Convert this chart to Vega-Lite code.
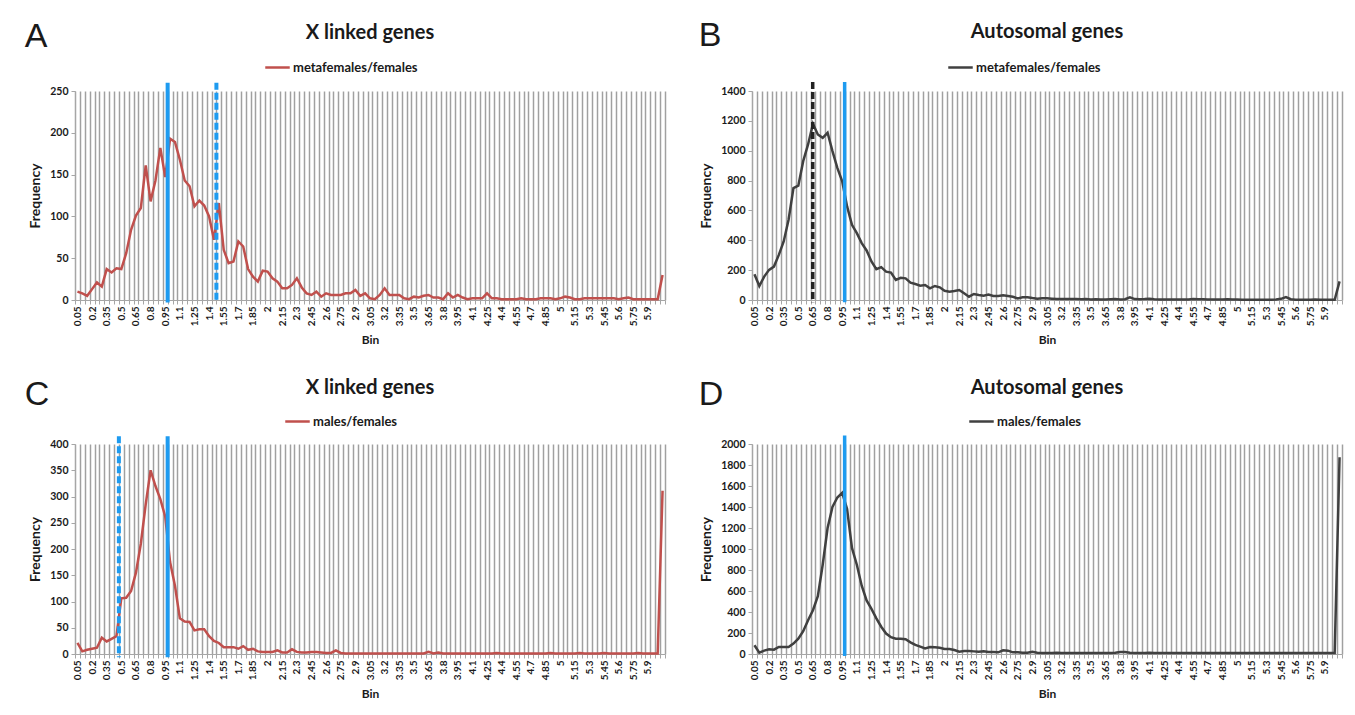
{
"$schema":"https://vega.github.io/schema/vega-lite/v6.json",
"padding":{"left":24,"top":19,"right":5,"bottom":5},
"background":"white",
"resolve":{"scale":{"color":"independent"},"legend":{"color":"independent"}},
"config":{
 "font":"Lato",
 "view":{"stroke":null},
 "axis":{"labelFont":"Lato","titleFont":"Lato","labelColor":"#1a1a1a","titleColor":"#1a1a1a","domainColor":"#a6a6a6","tickColor":"#a6a6a6","labelFontWeight":"bold","titleFontWeight":"bold"},
 "axisX":{"labelAngle":-90,"labelFontSize":10,"tickBand":"extent","grid":true,"gridColor":"#a0a0a0","gridWidth":1.5,"tickSize":4,"labelPadding":2,"titleFontSize":12,"titlePadding":9,"labelOverlap":false,"labelExpr":"round(datum.value*20) % 3 == 1 && datum.value < 6.02 ? datum.value + '' : ''"},
 "axisY":{"grid":false,"labelFontSize":10.5,"titleFontSize":14,"tickSize":4,"labelPadding":3,"titlePadding":7,"labelOverlap":false,"format":"d"},
 "title":{"font":"Lato","color":"#1a1a1a"},
 "legend":{"orient":"none","title":null,"symbolType":"stroke","symbolStrokeWidth":2.5,"symbolSize":600,"labelFont":"Lato","labelFontSize":13,"labelFontWeight":"bold","labelColor":"#1a1a1a","labelOffset":2}
},
"datasets":{
"A":[{"bin":0.05,"freq":10},{"bin":0.1,"freq":8},{"bin":0.15,"freq":5},{"bin":0.2,"freq":13},{"bin":0.25,"freq":21},{"bin":0.3,"freq":16},{"bin":0.35,"freq":37},{"bin":0.4,"freq":33},{"bin":0.45,"freq":38},{"bin":0.5,"freq":37},
{"bin":0.55,"freq":56},{"bin":0.6,"freq":84},{"bin":0.65,"freq":101},{"bin":0.7,"freq":110},{"bin":0.75,"freq":161},{"bin":0.8,"freq":118},{"bin":0.85,"freq":143},{"bin":0.9,"freq":182},{"bin":0.95,"freq":147},{"bin":1,"freq":193},
{"bin":1.05,"freq":189},{"bin":1.1,"freq":168},{"bin":1.15,"freq":143},{"bin":1.2,"freq":136},{"bin":1.25,"freq":112},{"bin":1.3,"freq":119},{"bin":1.35,"freq":113},{"bin":1.4,"freq":100},{"bin":1.45,"freq":72},{"bin":1.5,"freq":116},
{"bin":1.55,"freq":60},{"bin":1.6,"freq":44},{"bin":1.65,"freq":46},{"bin":1.7,"freq":70},{"bin":1.75,"freq":64},{"bin":1.8,"freq":37},{"bin":1.85,"freq":28},{"bin":1.9,"freq":22},{"bin":1.95,"freq":35},{"bin":2,"freq":34},
{"bin":2.05,"freq":26},{"bin":2.1,"freq":22},{"bin":2.15,"freq":14},{"bin":2.2,"freq":14},{"bin":2.25,"freq":18},{"bin":2.3,"freq":26},{"bin":2.35,"freq":15},{"bin":2.4,"freq":8},{"bin":2.45,"freq":6},{"bin":2.5,"freq":10},
{"bin":2.55,"freq":4},{"bin":2.6,"freq":8},{"bin":2.65,"freq":6},{"bin":2.7,"freq":6},{"bin":2.75,"freq":6},{"bin":2.8,"freq":8},{"bin":2.85,"freq":8},{"bin":2.9,"freq":12},{"bin":2.95,"freq":5},{"bin":3,"freq":8},
{"bin":3.05,"freq":2},{"bin":3.1,"freq":1},{"bin":3.15,"freq":6},{"bin":3.2,"freq":14},{"bin":3.25,"freq":6},{"bin":3.3,"freq":6},{"bin":3.35,"freq":6},{"bin":3.4,"freq":2},{"bin":3.45,"freq":1},{"bin":3.5,"freq":4},
{"bin":3.55,"freq":3},{"bin":3.6,"freq":5},{"bin":3.65,"freq":6},{"bin":3.7,"freq":3},{"bin":3.75,"freq":3},{"bin":3.8,"freq":1},{"bin":3.85,"freq":8},{"bin":3.9,"freq":3},{"bin":3.95,"freq":6},{"bin":4,"freq":3},
{"bin":4.05,"freq":1},{"bin":4.1,"freq":2},{"bin":4.15,"freq":2},{"bin":4.2,"freq":2},{"bin":4.25,"freq":8},{"bin":4.3,"freq":2},{"bin":4.35,"freq":2},{"bin":4.4,"freq":1},{"bin":4.45,"freq":1},{"bin":4.5,"freq":1},
{"bin":4.55,"freq":1},{"bin":4.6,"freq":2},{"bin":4.65,"freq":1},{"bin":4.7,"freq":1},{"bin":4.75,"freq":1},{"bin":4.8,"freq":2},{"bin":4.85,"freq":2},{"bin":4.9,"freq":2},{"bin":4.95,"freq":1},{"bin":5,"freq":2},
{"bin":5.05,"freq":4},{"bin":5.1,"freq":3},{"bin":5.15,"freq":1},{"bin":5.2,"freq":1},{"bin":5.25,"freq":2},{"bin":5.3,"freq":2},{"bin":5.35,"freq":2},{"bin":5.4,"freq":2},{"bin":5.45,"freq":2},{"bin":5.5,"freq":2},
{"bin":5.55,"freq":2},{"bin":5.6,"freq":1},{"bin":5.65,"freq":2},{"bin":5.7,"freq":3},{"bin":5.75,"freq":1},{"bin":5.8,"freq":1},{"bin":5.85,"freq":1},{"bin":5.9,"freq":1},{"bin":5.95,"freq":1},{"bin":6,"freq":1},
{"bin":6.05,"freq":30}],
"B":[{"bin":0.05,"freq":172},{"bin":0.1,"freq":94},{"bin":0.15,"freq":157},{"bin":0.2,"freq":202},{"bin":0.25,"freq":224},{"bin":0.3,"freq":302},{"bin":0.35,"freq":392},{"bin":0.4,"freq":538},{"bin":0.45,"freq":750},{"bin":0.5,"freq":766},
{"bin":0.55,"freq":930},{"bin":0.6,"freq":1042},{"bin":0.65,"freq":1180},{"bin":0.7,"freq":1109},{"bin":0.75,"freq":1086},{"bin":0.8,"freq":1120},{"bin":0.85,"freq":997},{"bin":0.9,"freq":885},{"bin":0.95,"freq":795},{"bin":1,"freq":627},
{"bin":1.05,"freq":504},{"bin":1.1,"freq":448},{"bin":1.15,"freq":381},{"bin":1.2,"freq":332},{"bin":1.25,"freq":258},{"bin":1.3,"freq":206},{"bin":1.35,"freq":220},{"bin":1.4,"freq":190},{"bin":1.45,"freq":184},{"bin":1.5,"freq":134},
{"bin":1.55,"freq":149},{"bin":1.6,"freq":145},{"bin":1.65,"freq":116},{"bin":1.7,"freq":107},{"bin":1.75,"freq":96},{"bin":1.8,"freq":100},{"bin":1.85,"freq":78},{"bin":1.9,"freq":94},{"bin":1.95,"freq":85},{"bin":2,"freq":62},
{"bin":2.05,"freq":56},{"bin":2.1,"freq":60},{"bin":2.15,"freq":67},{"bin":2.2,"freq":45},{"bin":2.25,"freq":22},{"bin":2.3,"freq":40},{"bin":2.35,"freq":33},{"bin":2.4,"freq":29},{"bin":2.45,"freq":36},{"bin":2.5,"freq":27},
{"bin":2.55,"freq":27},{"bin":2.6,"freq":31},{"bin":2.65,"freq":27},{"bin":2.7,"freq":22},{"bin":2.75,"freq":11},{"bin":2.8,"freq":18},{"bin":2.85,"freq":18},{"bin":2.9,"freq":13},{"bin":2.95,"freq":9},{"bin":3,"freq":11},
{"bin":3.05,"freq":11},{"bin":3.1,"freq":9},{"bin":3.15,"freq":7},{"bin":3.2,"freq":7},{"bin":3.25,"freq":7},{"bin":3.3,"freq":6},{"bin":3.35,"freq":6},{"bin":3.4,"freq":5},{"bin":3.45,"freq":6},{"bin":3.5,"freq":4},
{"bin":3.55,"freq":5},{"bin":3.6,"freq":4},{"bin":3.65,"freq":4},{"bin":3.7,"freq":5},{"bin":3.75,"freq":6},{"bin":3.8,"freq":4},{"bin":3.85,"freq":5},{"bin":3.9,"freq":18},{"bin":3.95,"freq":6},{"bin":4,"freq":5},
{"bin":4.05,"freq":6},{"bin":4.1,"freq":8},{"bin":4.15,"freq":5},{"bin":4.2,"freq":3},{"bin":4.25,"freq":3},{"bin":4.3,"freq":3},{"bin":4.35,"freq":3},{"bin":4.4,"freq":3},{"bin":4.45,"freq":4},{"bin":4.5,"freq":4},
{"bin":4.55,"freq":6},{"bin":4.6,"freq":5},{"bin":4.65,"freq":5},{"bin":4.7,"freq":3},{"bin":4.75,"freq":3},{"bin":4.8,"freq":3},{"bin":4.85,"freq":3},{"bin":4.9,"freq":5},{"bin":4.95,"freq":3},{"bin":5,"freq":3},
{"bin":5.05,"freq":2},{"bin":5.1,"freq":2},{"bin":5.15,"freq":2},{"bin":5.2,"freq":2},{"bin":5.25,"freq":2},{"bin":5.3,"freq":2},{"bin":5.35,"freq":2},{"bin":5.4,"freq":3},{"bin":5.45,"freq":8},{"bin":5.5,"freq":20},
{"bin":5.55,"freq":5},{"bin":5.6,"freq":2},{"bin":5.65,"freq":2},{"bin":5.7,"freq":2},{"bin":5.75,"freq":2},{"bin":5.8,"freq":3},{"bin":5.85,"freq":2},{"bin":5.9,"freq":2},{"bin":5.95,"freq":2},{"bin":6,"freq":2},
{"bin":6.05,"freq":125}],
"C":[{"bin":0.05,"freq":21},{"bin":0.1,"freq":5},{"bin":0.15,"freq":8},{"bin":0.2,"freq":10},{"bin":0.25,"freq":12},{"bin":0.3,"freq":31},{"bin":0.35,"freq":24},{"bin":0.4,"freq":29},{"bin":0.45,"freq":34},{"bin":0.5,"freq":106},
{"bin":0.55,"freq":107},{"bin":0.6,"freq":120},{"bin":0.65,"freq":155},{"bin":0.7,"freq":210},{"bin":0.75,"freq":285},{"bin":0.8,"freq":350},{"bin":0.85,"freq":320},{"bin":0.9,"freq":295},{"bin":0.95,"freq":262},{"bin":1,"freq":175},
{"bin":1.05,"freq":130},{"bin":1.1,"freq":68},{"bin":1.15,"freq":62},{"bin":1.2,"freq":61},{"bin":1.25,"freq":45},{"bin":1.3,"freq":47},{"bin":1.35,"freq":47},{"bin":1.4,"freq":34},{"bin":1.45,"freq":25},{"bin":1.5,"freq":21},
{"bin":1.55,"freq":13},{"bin":1.6,"freq":13},{"bin":1.65,"freq":13},{"bin":1.7,"freq":10},{"bin":1.75,"freq":15},{"bin":1.8,"freq":8},{"bin":1.85,"freq":10},{"bin":1.9,"freq":5},{"bin":1.95,"freq":4},{"bin":2,"freq":4},
{"bin":2.05,"freq":4},{"bin":2.1,"freq":7},{"bin":2.15,"freq":3},{"bin":2.2,"freq":3},{"bin":2.25,"freq":9},{"bin":2.3,"freq":4},{"bin":2.35,"freq":3},{"bin":2.4,"freq":3},{"bin":2.45,"freq":4},{"bin":2.5,"freq":4},
{"bin":2.55,"freq":3},{"bin":2.6,"freq":2},{"bin":2.65,"freq":2},{"bin":2.7,"freq":7},{"bin":2.75,"freq":2},{"bin":2.8,"freq":1},{"bin":2.85,"freq":1},{"bin":2.9,"freq":1},{"bin":2.95,"freq":1},{"bin":3,"freq":1},
{"bin":3.05,"freq":1},{"bin":3.1,"freq":1},{"bin":3.15,"freq":1},{"bin":3.2,"freq":1},{"bin":3.25,"freq":1},{"bin":3.3,"freq":1},{"bin":3.35,"freq":1},{"bin":3.4,"freq":1},{"bin":3.45,"freq":1},{"bin":3.5,"freq":1},
{"bin":3.55,"freq":1},{"bin":3.6,"freq":1},{"bin":3.65,"freq":4},{"bin":3.7,"freq":1},{"bin":3.75,"freq":3},{"bin":3.8,"freq":1},{"bin":3.85,"freq":1},{"bin":3.9,"freq":1},{"bin":3.95,"freq":1},{"bin":4,"freq":1},
{"bin":4.05,"freq":1},{"bin":4.1,"freq":1},{"bin":4.15,"freq":1},{"bin":4.2,"freq":1},{"bin":4.25,"freq":1},{"bin":4.3,"freq":1},{"bin":4.35,"freq":2},{"bin":4.4,"freq":1},{"bin":4.45,"freq":1},{"bin":4.5,"freq":1},
{"bin":4.55,"freq":1},{"bin":4.6,"freq":1},{"bin":4.65,"freq":1},{"bin":4.7,"freq":1},{"bin":4.75,"freq":1},{"bin":4.8,"freq":1},{"bin":4.85,"freq":1},{"bin":4.9,"freq":2},{"bin":4.95,"freq":1},{"bin":5,"freq":1},
{"bin":5.05,"freq":1},{"bin":5.1,"freq":1},{"bin":5.15,"freq":1},{"bin":5.2,"freq":2},{"bin":5.25,"freq":1},{"bin":5.3,"freq":1},{"bin":5.35,"freq":1},{"bin":5.4,"freq":1},{"bin":5.45,"freq":2},{"bin":5.5,"freq":1},
{"bin":5.55,"freq":1},{"bin":5.6,"freq":1},{"bin":5.65,"freq":1},{"bin":5.7,"freq":1},{"bin":5.75,"freq":1},{"bin":5.8,"freq":2},{"bin":5.85,"freq":1},{"bin":5.9,"freq":1},{"bin":5.95,"freq":1},{"bin":6,"freq":1},
{"bin":6.05,"freq":311}],
"D":[{"bin":0.05,"freq":83},{"bin":0.1,"freq":13},{"bin":0.15,"freq":32},{"bin":0.2,"freq":45},{"bin":0.25,"freq":41},{"bin":0.3,"freq":67},{"bin":0.35,"freq":67},{"bin":0.4,"freq":67},{"bin":0.45,"freq":99},{"bin":0.5,"freq":146},
{"bin":0.55,"freq":217},{"bin":0.6,"freq":322},{"bin":0.65,"freq":417},{"bin":0.7,"freq":550},{"bin":0.75,"freq":850},{"bin":0.8,"freq":1200},{"bin":0.85,"freq":1400},{"bin":0.9,"freq":1490},{"bin":0.95,"freq":1535},{"bin":1,"freq":1380},
{"bin":1.05,"freq":1010},{"bin":1.1,"freq":850},{"bin":1.15,"freq":650},{"bin":1.2,"freq":510},{"bin":1.25,"freq":430},{"bin":1.3,"freq":340},{"bin":1.35,"freq":260},{"bin":1.4,"freq":195},{"bin":1.45,"freq":160},{"bin":1.5,"freq":145},
{"bin":1.55,"freq":145},{"bin":1.6,"freq":140},{"bin":1.65,"freq":111},{"bin":1.7,"freq":86},{"bin":1.75,"freq":70},{"bin":1.8,"freq":54},{"bin":1.85,"freq":67},{"bin":1.9,"freq":64},{"bin":1.95,"freq":60},{"bin":2,"freq":48},
{"bin":2.05,"freq":48},{"bin":2.1,"freq":38},{"bin":2.15,"freq":22},{"bin":2.2,"freq":29},{"bin":2.25,"freq":29},{"bin":2.3,"freq":25},{"bin":2.35,"freq":22},{"bin":2.4,"freq":25},{"bin":2.45,"freq":19},{"bin":2.5,"freq":19},
{"bin":2.55,"freq":16},{"bin":2.6,"freq":35},{"bin":2.65,"freq":32},{"bin":2.7,"freq":16},{"bin":2.75,"freq":16},{"bin":2.8,"freq":13},{"bin":2.85,"freq":13},{"bin":2.9,"freq":22},{"bin":2.95,"freq":13},{"bin":3,"freq":10},
{"bin":3.05,"freq":10},{"bin":3.1,"freq":10},{"bin":3.15,"freq":13},{"bin":3.2,"freq":10},{"bin":3.25,"freq":10},{"bin":3.3,"freq":10},{"bin":3.35,"freq":10},{"bin":3.4,"freq":10},{"bin":3.45,"freq":10},{"bin":3.5,"freq":10},
{"bin":3.55,"freq":10},{"bin":3.6,"freq":10},{"bin":3.65,"freq":10},{"bin":3.7,"freq":10},{"bin":3.75,"freq":13},{"bin":3.8,"freq":19},{"bin":3.85,"freq":19},{"bin":3.9,"freq":13},{"bin":3.95,"freq":10},{"bin":4,"freq":10},
{"bin":4.05,"freq":10},{"bin":4.1,"freq":13},{"bin":4.15,"freq":10},{"bin":4.2,"freq":10},{"bin":4.25,"freq":10},{"bin":4.3,"freq":10},{"bin":4.35,"freq":10},{"bin":4.4,"freq":10},{"bin":4.45,"freq":10},{"bin":4.5,"freq":10},
{"bin":4.55,"freq":10},{"bin":4.6,"freq":10},{"bin":4.65,"freq":10},{"bin":4.7,"freq":10},{"bin":4.75,"freq":10},{"bin":4.8,"freq":10},{"bin":4.85,"freq":10},{"bin":4.9,"freq":10},{"bin":4.95,"freq":10},{"bin":5,"freq":10},
{"bin":5.05,"freq":10},{"bin":5.1,"freq":10},{"bin":5.15,"freq":10},{"bin":5.2,"freq":10},{"bin":5.25,"freq":10},{"bin":5.3,"freq":10},{"bin":5.35,"freq":10},{"bin":5.4,"freq":10},{"bin":5.45,"freq":10},{"bin":5.5,"freq":10},
{"bin":5.55,"freq":10},{"bin":5.6,"freq":10},{"bin":5.65,"freq":10},{"bin":5.7,"freq":10},{"bin":5.75,"freq":10},{"bin":5.8,"freq":10},{"bin":5.85,"freq":10},{"bin":5.9,"freq":10},{"bin":5.95,"freq":10},{"bin":6,"freq":10},
{"bin":6.05,"freq":1873}]
},
"vconcat":[
{"resolve":{"scale":{"color":"independent"},"legend":{"color":"independent"}},
 "hconcat":[
 {"title":{"text":"A","anchor":"start","fontSize":34,"font":"Liberation Sans","fontWeight":"normal","dy":35,"dx":-4},
  "vconcat":[{
   "width":590,"height":209,
   "title":{"text":"X linked genes","fontSize":20,"fontWeight":"bold","offset":38},
   "data":{"name":"A"},
   "layer":[
    {"mark":{"type":"line","strokeWidth":2.5},
     "encoding":{
      "x":{"field":"bin","type":"ordinal","title":"Bin","bandPosition":0.5,"scale":{"type":"band","paddingInner":0,"paddingOuter":0}},
      "y":{"field":"freq","type":"quantitative","title":"Frequency","scale":{"domain":[0,250],"nice":false},"axis":{"values":[0,50,100,150,200,250]}},
      "color":{"datum":"metafemales/females","type":"nominal","scale":{"range":["#C0504D"]},"legend":{"legendX":189,"legendY":-37}}}},
    {"data":{"values":[{"bin":1,"top":260,"bottom":-3}]},"mark":{"type":"rule","color":"#1E9BF0","strokeWidth":4},
     "encoding":{"x":{"field":"bin","type":"ordinal","bandPosition":0},"y":{"field":"top","type":"quantitative","axis":{"values":[0,50,100,150,200,250]}},"y2":{"field":"bottom"}}},
    {"data":{"values":[{"bin":1.5,"top":260,"bottom":-3}]},"mark":{"type":"rule","color":"#1E9BF0","strokeWidth":4,"strokeDash":[7,3]},
     "encoding":{"x":{"field":"bin","type":"ordinal","bandPosition":0},"y":{"field":"top","type":"quantitative","axis":{"values":[0,50,100,150,200,250]}},"y2":{"field":"bottom"}}}
   ]}]},
 {"title":{"text":"B","anchor":"start","fontSize":34,"font":"Liberation Sans","fontWeight":"normal","dy":35,"dx":-1},
  "vconcat":[{
   "width":590,"height":209,
   "title":{"text":"Autosomal genes","fontSize":20,"fontWeight":"bold","offset":38},
   "data":{"name":"B"},
   "layer":[
    {"mark":{"type":"line","strokeWidth":2.5},
     "encoding":{
      "x":{"field":"bin","type":"ordinal","title":"Bin","bandPosition":0.5,"scale":{"type":"band","paddingInner":0,"paddingOuter":0}},
      "y":{"field":"freq","type":"quantitative","title":"Frequency","scale":{"domain":[0,1400],"nice":false},"axis":{"values":[0,200,400,600,800,1000,1200,1400]}},
      "color":{"datum":"metafemales/females","type":"nominal","scale":{"range":["#404040"]},"legend":{"legendX":195,"legendY":-37}}}},
    {"data":{"values":[{"bin":0.65,"top":1460,"bottom":-15}]},"mark":{"type":"rule","color":"#222222","strokeWidth":3.5,"strokeDash":[7,3]},
     "encoding":{"x":{"field":"bin","type":"ordinal","bandPosition":0.45},"y":{"field":"top","type":"quantitative","axis":{"values":[0,200,400,600,800,1000,1200,1400]}},"y2":{"field":"bottom"}}},
    {"data":{"values":[{"bin":1,"top":1460,"bottom":-15}]},"mark":{"type":"rule","color":"#1E9BF0","strokeWidth":3.5},
     "encoding":{"x":{"field":"bin","type":"ordinal","bandPosition":0},"y":{"field":"top","type":"quantitative","axis":{"values":[0,200,400,600,800,1000,1200,1400]}},"y2":{"field":"bottom"}}}
   ]}]}
],"spacing":30},
{"resolve":{"scale":{"color":"independent"},"legend":{"color":"independent"}},
 "hconcat":[
 {"title":{"text":"C","anchor":"start","fontSize":34,"font":"Liberation Sans","fontWeight":"normal","dy":38,"dx":-4},
  "vconcat":[{
   "width":590,"height":210,
   "title":{"text":"X linked genes","fontSize":20,"fontWeight":"bold","offset":36},
   "data":{"name":"C"},
   "layer":[
    {"mark":{"type":"line","strokeWidth":2.5},
     "encoding":{
      "x":{"field":"bin","type":"ordinal","title":"Bin","bandPosition":0.5,"scale":{"type":"band","paddingInner":0,"paddingOuter":0}},
      "y":{"field":"freq","type":"quantitative","title":"Frequency","scale":{"domain":[0,400],"nice":false},"axis":{"values":[0,50,100,150,200,250,300,350,400]}},
      "color":{"datum":"males/females","type":"nominal","scale":{"range":["#C0504D"]},"legend":{"legendX":209,"legendY":-36}}}},
    {"data":{"values":[{"bin":0.5,"top":415,"bottom":-6}]},"mark":{"type":"rule","color":"#1E9BF0","strokeWidth":4,"strokeDash":[7,3]},
     "encoding":{"x":{"field":"bin","type":"ordinal","bandPosition":0},"y":{"field":"top","type":"quantitative","axis":{"values":[0,50,100,150,200,250,300,350,400]}},"y2":{"field":"bottom"}}},
    {"data":{"values":[{"bin":1,"top":415,"bottom":-6}]},"mark":{"type":"rule","color":"#1E9BF0","strokeWidth":4},
     "encoding":{"x":{"field":"bin","type":"ordinal","bandPosition":0},"y":{"field":"top","type":"quantitative","axis":{"values":[0,50,100,150,200,250,300,350,400]}},"y2":{"field":"bottom"}}}
   ]}]},
 {"title":{"text":"D","anchor":"start","fontSize":34,"font":"Liberation Sans","fontWeight":"normal","dy":38,"dx":-1},
  "vconcat":[{
   "width":590,"height":210,
   "title":{"text":"Autosomal genes","fontSize":20,"fontWeight":"bold","offset":36},
   "data":{"name":"D"},
   "layer":[
    {"mark":{"type":"line","strokeWidth":2.5},
     "encoding":{
      "x":{"field":"bin","type":"ordinal","title":"Bin","bandPosition":0.5,"scale":{"type":"band","paddingInner":0,"paddingOuter":0}},
      "y":{"field":"freq","type":"quantitative","title":"Frequency","scale":{"domain":[0,2000],"nice":false},"axis":{"values":[0,200,400,600,800,1000,1200,1400,1600,1800,2000]}},
      "color":{"datum":"males/females","type":"nominal","scale":{"range":["#404040"]},"legend":{"legendX":216,"legendY":-36}}}},
    {"data":{"values":[{"bin":1,"top":2080,"bottom":-20}]},"mark":{"type":"rule","color":"#1E9BF0","strokeWidth":3.5},
     "encoding":{"x":{"field":"bin","type":"ordinal","bandPosition":0},"y":{"field":"top","type":"quantitative","axis":{"values":[0,200,400,600,800,1000,1200,1400,1600,1800,2000]}},"y2":{"field":"bottom"}}}
   ]}]}
],"spacing":30}
],
"spacing":31
}
